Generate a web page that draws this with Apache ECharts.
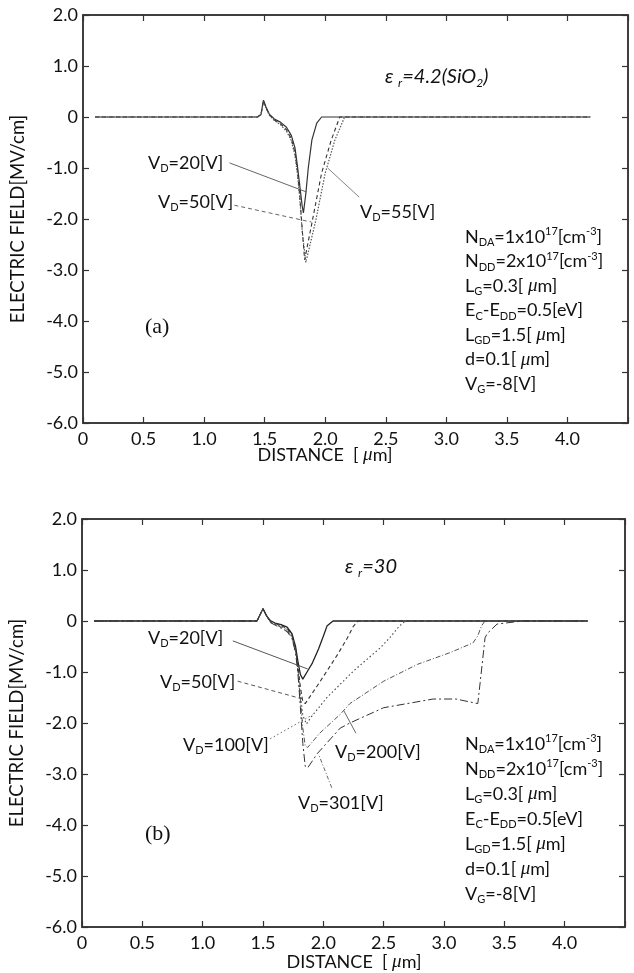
<!DOCTYPE html>
<html><head><meta charset="utf-8">
<script src="https://cdn.jsdelivr.net/npm/echarts@6/dist/echarts.min.js"></script>
<style>html,body{margin:0;padding:0;background:#fff}#c{width:634px;height:973px}</style>
</head><body><div id="c"></div>
<script>
// ---- tick labels ----
const xTickLabels = ['0','0.5','1.0','1.5','2.0','2.5','3.0','3.5','4.0',''];
const yTickLabels = ['-6.0','-5.0','-4.0','-3.0','-2.0','-1.0','0','1.0','2.0'];

// ---- (a) eps_r = 4.2 (SiO2): [distance um, field MV/cm] ----
const a_vd20 = [[0.1,0],[1.44,0],[1.47,0.05],[1.49,0.33],[1.51,0.2],[1.54,0.05],[1.58,-0.04],[1.63,-0.1],[1.68,-0.2],[1.72,-0.36],[1.75,-0.6],[1.77,-0.95],[1.79,-1.35],[1.81,-1.75],[1.82,-1.88],[1.84,-1.5],[1.86,-1.0],[1.89,-0.45],[1.93,-0.12],[1.97,0],[4.19,0]];
const a_vd50 = [[0.1,0],[1.44,0],[1.47,0.05],[1.49,0.32],[1.51,0.19],[1.54,0.04],[1.58,-0.06],[1.63,-0.13],[1.68,-0.25],[1.72,-0.42],[1.75,-0.7],[1.77,-1.05],[1.79,-1.55],[1.81,-2.2],[1.83,-2.8],[1.89,-2.08],[1.97,-1.1],[2.05,-0.45],[2.12,0],[4.19,0]];
const a_vd55 = [[0.1,0],[1.44,0],[1.47,0.05],[1.49,0.31],[1.51,0.18],[1.54,0.03],[1.58,-0.07],[1.63,-0.15],[1.68,-0.28],[1.72,-0.46],[1.75,-0.75],[1.77,-1.1],[1.79,-1.6],[1.81,-2.25],[1.84,-2.85],[1.92,-2.05],[2.0,-1.1],[2.08,-0.45],[2.16,0],[4.19,0]];

// ---- (b) eps_r = 30 ----
const b_vd20 = [[0.1,0],[1.45,0],[1.5,0.24],[1.53,0.1],[1.56,0.01],[1.6,-0.04],[1.65,-0.07],[1.7,-0.12],[1.74,-0.25],[1.77,-0.5],[1.79,-0.8],[1.81,-1.05],[1.83,-1.14],[1.87,-0.98],[1.91,-0.82],[1.96,-0.55],[2.0,-0.3],[2.03,-0.1],[2.08,0],[4.19,0]];
const b_vd50 = [[0.1,0],[1.45,0],[1.5,0.24],[1.53,0.1],[1.56,0.0],[1.6,-0.05],[1.65,-0.09],[1.7,-0.15],[1.74,-0.28],[1.77,-0.55],[1.79,-0.9],[1.81,-1.3],[1.83,-1.58],[1.85,-1.62],[1.95,-1.27],[2.03,-0.98],[2.12,-0.65],[2.2,-0.33],[2.25,-0.1],[2.29,0],[4.19,0]];
const b_vd100 = [[0.1,0],[1.45,0],[1.5,0.24],[1.53,0.1],[1.56,-0.01],[1.6,-0.06],[1.65,-0.1],[1.7,-0.17],[1.74,-0.3],[1.77,-0.58],[1.79,-0.95],[1.81,-1.45],[1.83,-1.85],[1.86,-2.02],[1.9,-1.88],[2.03,-1.5],[2.25,-0.98],[2.47,-0.53],[2.55,-0.33],[2.63,-0.1],[2.68,0],[4.19,0]];
const b_vd200 = [[0.1,0],[1.45,0],[1.5,0.24],[1.53,0.1],[1.56,-0.02],[1.6,-0.07],[1.65,-0.12],[1.7,-0.19],[1.74,-0.32],[1.77,-0.6],[1.79,-1.0],[1.81,-1.55],[1.83,-2.1],[1.85,-2.45],[1.87,-2.48],[1.97,-2.2],[2.14,-1.83],[2.22,-1.62],[2.5,-1.18],[2.78,-0.85],[3.05,-0.62],[3.24,-0.43],[3.28,-0.29],[3.31,-0.1],[3.34,0],[4.19,0]];
const b_vd301 = [[0.1,0],[1.45,0],[1.5,0.24],[1.53,0.1],[1.56,-0.03],[1.6,-0.08],[1.65,-0.14],[1.7,-0.21],[1.74,-0.34],[1.77,-0.62],[1.79,-1.05],[1.81,-1.7],[1.83,-2.4],[1.85,-2.85],[1.87,-2.88],[1.95,-2.6],[2.14,-2.1],[2.22,-2.0],[2.5,-1.7],[2.91,-1.53],[3.1,-1.53],[3.28,-1.62],[3.3,-1.2],[3.34,-0.33],[3.36,-0.24],[3.44,-0.06],[3.65,0],[4.19,0]];

// ---- leader lines (data coords) ----
const a_lead20 = [[1.21,-0.9],[1.845,-1.47]];
const a_lead50 = [[1.25,-1.73],[1.886,-2.06]];
const a_lead55 = [[2.28,-1.57],[2.02,-1.0]];
const b_lead20 = [[1.25,-0.39],[1.87,-0.94]];
const b_lead50 = [[1.29,-1.18],[1.83,-1.53]];
const b_lead100 = [[1.56,-2.31],[1.91,-1.84]];
const b_lead200 = [[2.27,-2.2],[2.17,-1.76]];
const b_lead301 = [[2.07,-3.27],[1.96,-2.61]];

const FONT = 'Lato, "Open Sans", sans-serif';
const INK = '#333';

function xAxisDef(gi, pos, labels) {
  return {
    type: 'value', gridIndex: gi, position: pos, min: 0, max: 4.5, interval: 0.5,
    axisLine: { show: true, onZero: false, lineStyle: { color: INK, width: 1.5 } },
    axisTick: { show: true, inside: true, length: 6, lineStyle: { color: INK, width: 1.2 } },
    axisLabel: { show: labels, margin: 7, color: '#111', fontSize: 18, fontFamily: FONT,
      formatter: v => xTickLabels[Math.round(v / 0.5)] },
    splitLine: { show: false }
  };
}
function yAxisDef(gi, pos, labels) {
  const o = {
    type: 'value', gridIndex: gi, position: pos, min: -6, max: 2, interval: 1,
    axisLine: { show: true, onZero: false, lineStyle: { color: INK, width: 1.5 } },
    axisTick: { show: true, inside: true, length: 6, lineStyle: { color: INK, width: 1.2 } },
    axisLabel: { show: labels, margin: 5, color: '#111', fontSize: 18, fontFamily: FONT,
      formatter: v => yTickLabels[Math.round(v + 6)] },
    splitLine: { show: false }
  };
  if (labels) {
    o.name = 'ELECTRIC FIELD[MV/cm]';
    o.nameLocation = 'middle';
    o.nameGap = 55;
    o.nameTextStyle = { fontSize: 18.5, fontFamily: FONT, color: '#111' };
  }
  return o;
}
function curve(name, data, xi, yi, type, width, color) {
  return { name, type: 'line', data, xAxisIndex: xi, yAxisIndex: yi, showSymbol: false, symbol: 'none',
    silent: true, animation: false, lineStyle: { color: color || '#333', width: width || 1.1, type: type || 'solid' }, z: 3 };
}

const rich = {
  m: { fontSize: 18, fontFamily: FONT, fill: '#111', lineHeight: 22, verticalAlign: 'middle' },
  s: { fontSize: 11, fontFamily: FONT, fill: '#111', lineHeight: 16, verticalAlign: 'bottom' },
  p: { fontSize: 11, fontFamily: FONT, fill: '#111', lineHeight: 16, verticalAlign: 'top' },
  u: { fontSize: 19, fontFamily: '"Liberation Serif", serif', fontStyle: 'italic', fill: '#111', lineHeight: 22, verticalAlign: 'middle' },
  e: { fontSize: 20, fontFamily: FONT, fontStyle: 'italic', fill: '#111', lineHeight: 24, verticalAlign: 'middle' },
  es: { fontSize: 12, fontFamily: FONT, fontStyle: 'italic', fill: '#111', lineHeight: 17, verticalAlign: 'bottom' }
};
function T(x, y, text, extra) {
  return { type: 'text', x, y, silent: true, z: 10,
    style: Object.assign({ text, rich, verticalAlign: 'middle', align: 'left', fill: '#111', font: '17px ' + FONT }, extra || {}) };
}
const vd = v => '{m|V}{s|D}{m|=' + v + '[V]}';
const params = [
  '{m|N}{s|DA}{m|=1x10}{p|17}{m|[cm}{p|-3}{m|]}',
  '{m|N}{s|DD}{m|=2x10}{p|17}{m|[cm}{p|-3}{m|]}',
  '{m|L}{s|G}{m|=0.3[ }{u|μ}{m|m]}',
  '{m|E}{s|C}{m|-E}{s|DD}{m|=0.5[eV]}',
  '{m|L}{s|GD}{m|=1.5[ }{u|μ}{m|m]}',
  '{m|d=0.1[ }{u|μ}{m|m]}',
  '{m|V}{s|G}{m|=-8[V]}'
];

const graphics = [];
// chart (a)
graphics.push(T(148, 163, vd(20)));
graphics.push(T(158, 202, vd(50)));
graphics.push(T(360, 212, vd(55)));
graphics.push(T(385, 77, '{e|ε }{es|r}{e|=4.2(SiO}{es|2}{e|)}'));
params.forEach((p, i) => graphics.push(T(465, 237 + 24.5 * i, p)));
graphics.push(T(145, 327, '(a)', { font: '22px "Liberation Serif", serif' }));
graphics.push(T(325, 455, '{m|DISTANCE  [ }{u|μ}{m|m]}', { align: 'center' }));
// chart (b)
graphics.push(T(148, 638, vd(20)));
graphics.push(T(160, 682, vd(50)));
graphics.push(T(183, 745, vd(100)));
graphics.push(T(335, 752, vd(200)));
graphics.push(T(298, 803, vd(301)));
graphics.push(T(345, 567, '{e|ε }{es|r}{e|=30}'));
params.forEach((p, i) => graphics.push(T(465, 744 + 25 * i, p)));
graphics.push(T(145, 834, '(b)', { font: '22px "Liberation Serif", serif' }));
graphics.push(T(354, 962, '{m|DISTANCE  [ }{u|μ}{m|m]}', { align: 'center' }));

const chart = echarts.init(document.getElementById('c'), null, { renderer: 'canvas' });
chart.setOption({
  backgroundColor: '#fff',
  animation: false,
  grid: [
    { left: 83, right: 6, top: 15, height: 408, show: true, borderColor: INK, borderWidth: 1.5, backgroundColor: 'transparent' },
    { left: 81, right: 9, top: 519, height: 408, show: true, borderColor: INK, borderWidth: 1.5, backgroundColor: 'transparent' }
  ],
  xAxis: [xAxisDef(0, 'bottom', true), xAxisDef(0, 'top', false), xAxisDef(1, 'bottom', true), xAxisDef(1, 'top', false)],
  yAxis: [yAxisDef(0, 'left', true), yAxisDef(0, 'right', false), yAxisDef(1, 'left', true), yAxisDef(1, 'right', false)],
  series: [
    { type: 'line', data: [], xAxisIndex: 1, yAxisIndex: 1, silent: true, symbol: 'none' },
    { type: 'line', data: [], xAxisIndex: 3, yAxisIndex: 3, silent: true, symbol: 'none' },
    curve('a VD=20', a_vd20, 0, 0, 'solid', 1.2),
    curve('a VD=50', a_vd50, 0, 0, [4, 3], 1.1),
    curve('a VD=55', a_vd55, 0, 0, [1.5, 1.5], 1.2, '#555'),
    curve('a lead20', a_lead20, 0, 0, 'solid', 0.9, '#555'),
    curve('a lead50', a_lead50, 0, 0, [4, 3], 0.9, '#555'),
    curve('a lead55', a_lead55, 0, 0, 'solid', 0.9, '#777'),
    curve('b VD=20', b_vd20, 2, 2, 'solid', 1.3, '#222'),
    curve('b VD=50', b_vd50, 2, 2, [4, 3], 1.1, '#333'),
    curve('b VD=100', b_vd100, 2, 2, [1.5, 2.5], 1.1, '#444'),
    curve('b VD=200', b_vd200, 2, 2, [5, 2, 1, 2], 1.0, '#555'),
    curve('b VD=301', b_vd301, 2, 2, [8, 3, 2, 3], 1.0, '#333'),
    curve('b lead20', b_lead20, 2, 2, 'solid', 0.9, '#444'),
    curve('b lead50', b_lead50, 2, 2, [4, 3], 0.9, '#444'),
    curve('b lead100', b_lead100, 2, 2, [1.5, 2.5], 0.9, '#555'),
    curve('b lead200', b_lead200, 2, 2, 'solid', 0.9, '#555'),
    curve('b lead301', b_lead301, 2, 2, [4, 2, 1, 2], 0.9, '#555')
  ],
  graphic: graphics
});
</script>
</body></html>
